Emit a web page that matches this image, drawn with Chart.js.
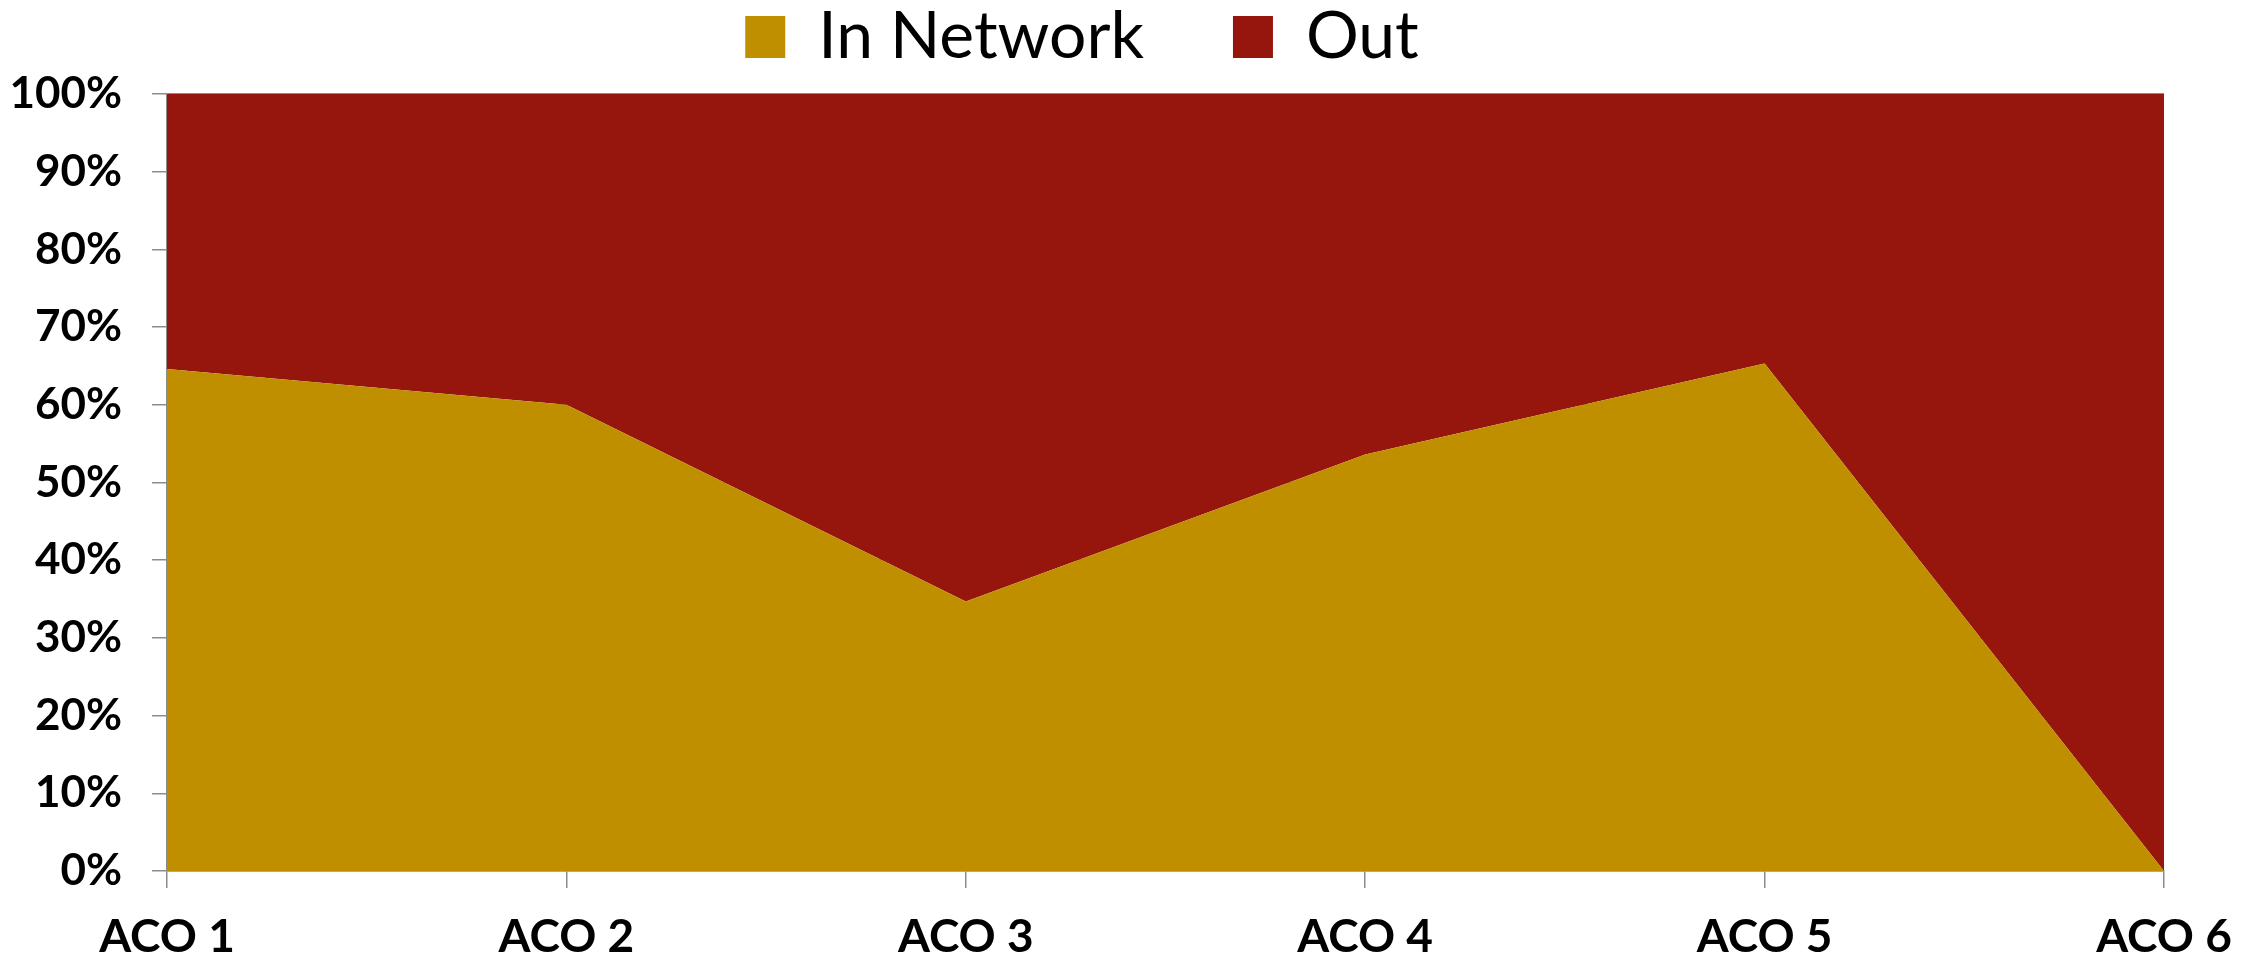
<!DOCTYPE html>
<html>
<head>
<meta charset="utf-8">
<script src="https://cdn.jsdelivr.net/npm/chart.js@4/dist/chart.umd.min.js"></script>
<style>
  html, body { margin: 0; padding: 0; background: #ffffff; }
  #wrap { width: 2259px; height: 961px; position: relative; }
</style>
</head>
<body>
<div id="wrap"><canvas id="chart"></canvas></div>
<script>
// Share of attributed care delivered in network vs. outside, per ACO (percent)
const categories = ['ACO 1', 'ACO 2', 'ACO 3', 'ACO 4', 'ACO 5', 'ACO 6'];
const inNetwork = [64.6, 60.0, 34.7, 53.6, 65.3, 0];
const outOfNetwork = [35.4, 40.0, 65.3, 46.4, 34.7, 100];
const yTicks = [0, 10, 20, 30, 40, 50, 60, 70, 80, 90, 100];

const GOLD = '#BF8F00';
const RED = '#96160E';
const AXIS_GRAY = '#8c8c8c';

// Legend: wide gap between entries; the box is pulled up with negative
// top padding, and a little extra room is left below it before the plot.
const LEGEND_GAP = 89;
const LEGEND_TOP = -85;
const LEGEND_EXTRA_BOTTOM = 14;

const legendSpacing = {
  id: 'legendSpacing',
  beforeInit(chart) {
    const originalFit = chart.legend.fit;
    chart.legend.fit = function fit() {
      originalFit.call(this);
      this.height += LEGEND_EXTRA_BOTTOM;
    };
  }
};

new Chart(document.getElementById('chart'), {
  type: 'line',
  plugins: [legendSpacing],
  data: {
    labels: categories,
    datasets: [
      {
        label: 'In Network',
        data: inNetwork,
        backgroundColor: GOLD,
        borderColor: GOLD,
        borderWidth: 0,
        pointRadius: 0,
        tension: 0,
        fill: 'origin'
      },
      {
        label: 'Out',
        data: outOfNetwork,
        backgroundColor: RED,
        borderColor: RED,
        borderWidth: 0,
        pointRadius: 0,
        tension: 0,
        fill: '-1'
      }
    ]
  },
  options: {
    responsive: true,
    maintainAspectRatio: false,
    animation: false,
    layout: { padding: { left: 0, right: 95, top: LEGEND_TOP, bottom: 0 } },
    plugins: {
      tooltip: { enabled: false },
      legend: {
        position: 'top',
        labels: {
          font: { family: 'Lato', size: 66 },
          color: '#000000',
          boxWidth: 40,
          boxHeight: 42,
          padding: LEGEND_GAP,
          useBorderRadius: false
        }
      }
    },
    scales: {
      x: {
        offset: false,
        grid: {
          display: true,
          drawOnChartArea: false,
          drawTicks: true,
          tickLength: 17,
          color: AXIS_GRAY,
          lineWidth: 1.5
        },
        border: { display: true, color: AXIS_GRAY, width: 1.5 },
        ticks: {
          font: { family: 'Lato', weight: 'bold', size: 46 },
          color: '#000000',
          padding: 22,
          maxRotation: 0,
          autoSkip: false
        },
        afterFit: (scale) => { scale.height = 90; }
      },
      y: {
        stacked: true,
        min: 0,
        max: 100,
        afterBuildTicks: (scale) => { scale.ticks = yTicks.map(v => ({ value: v })); },
        grid: {
          display: true,
          drawOnChartArea: true,
          drawTicks: true,
          tickLength: 15,
          color: AXIS_GRAY,
          lineWidth: 1.5
        },
        border: { display: true, color: AXIS_GRAY, width: 1.5 },
        ticks: {
          font: { family: 'Lato', weight: 'bold', size: 44 },
          color: '#000000',
          padding: 30,
          callback: (v) => v + '%'
        },
        afterFit: (scale) => { scale.width = 167; }
      }
    }
  }
});
</script>
</body>
</html>
